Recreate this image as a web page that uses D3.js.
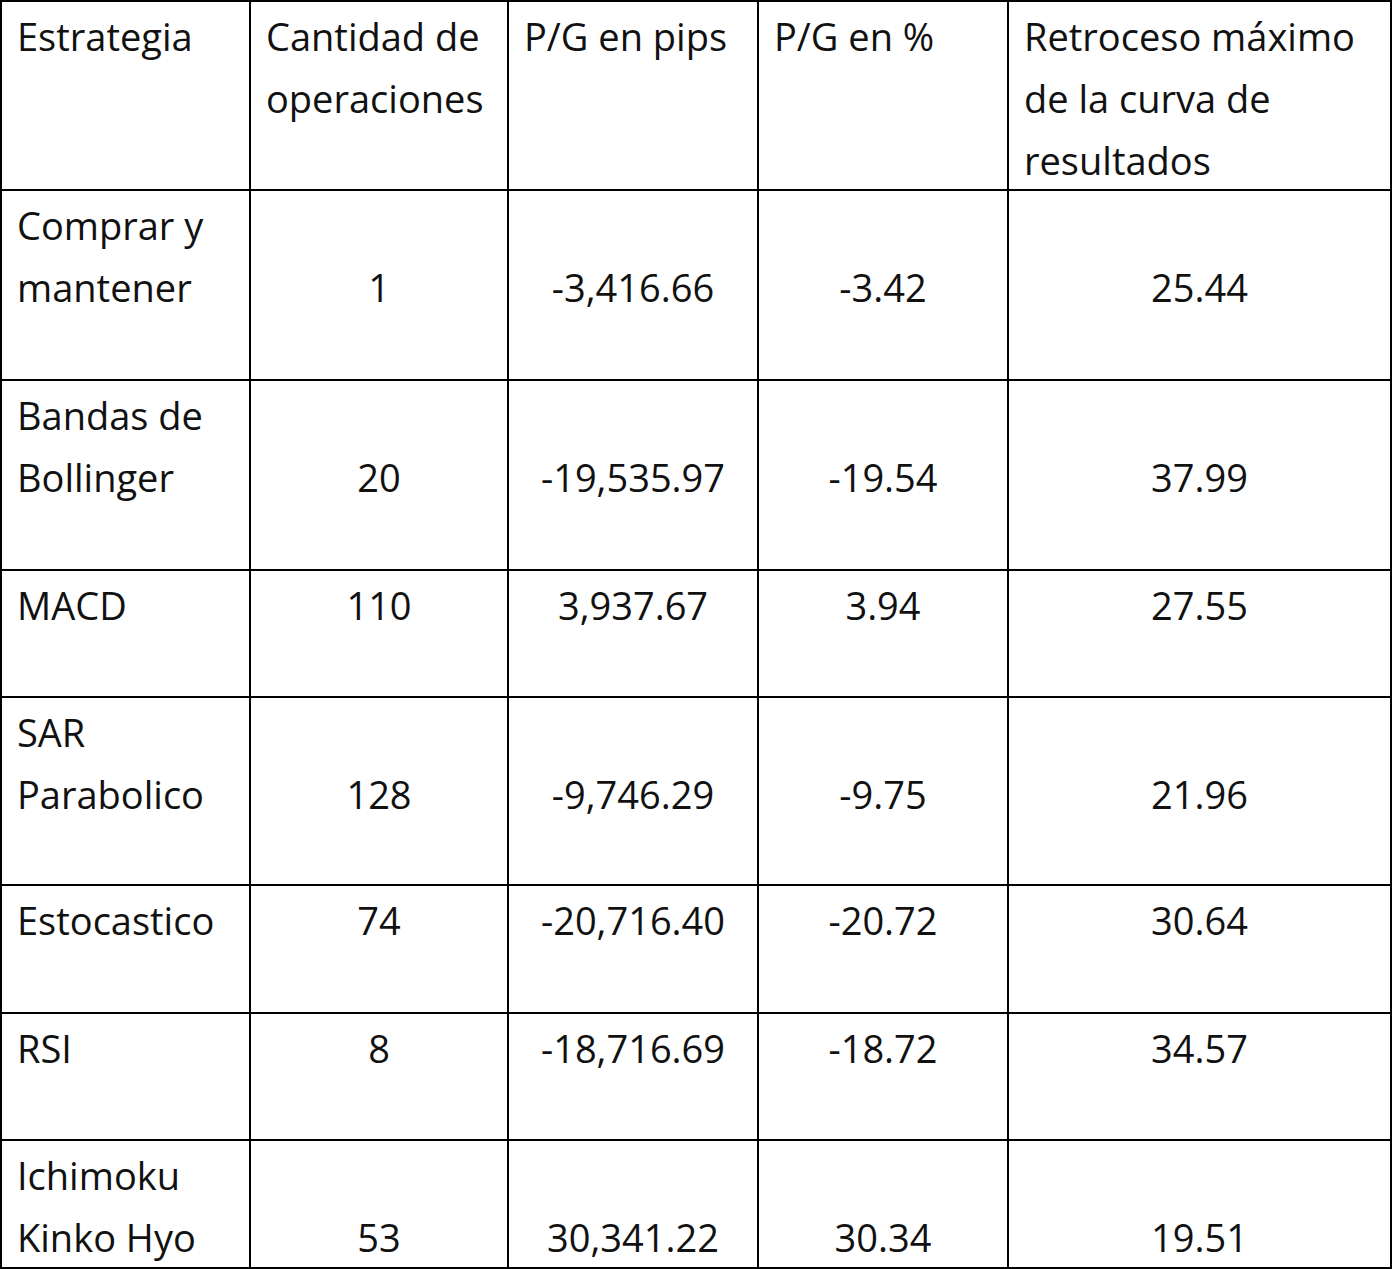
<!DOCTYPE html>
<html><head><meta charset="utf-8">
<script src="https://cdn.jsdelivr.net/npm/d3@7"></script>
<style>body{margin:0;background:#fff}text{font-family:"Open Sans",sans-serif;font-size:38px;fill:#111}</style>
</head><body><svg id="chart" width="1392" height="1269"></svg>
<script>
const headers = [["Estrategia"], ["Cantidad de", "operaciones"], ["P/G en pips"], ["P/G en %"], ["Retroceso máximo", "de la curva de", "resultados"]];
const strategies = [["Comprar y", "mantener"], ["Bandas de", "Bollinger"], ["MACD"], ["SAR", "Parabolico"], ["Estocastico"], ["RSI"], ["Ichimoku", "Kinko Hyo"]];
const operations = ["1", "20", "110", "128", "74", "8", "53"];
const pips = ["-3,416.66", "-19,535.97", "3,937.67", "-9,746.29", "-20,716.40", "-18,716.69", "30,341.22"];
const percent = ["-3.42", "-19.54", "3.94", "-9.75", "-20.72", "-18.72", "30.34"];
const drawdown = ["25.44", "37.99", "27.55", "21.96", "30.64", "34.57", "19.51"];

// layout
const colEdges = [1, 250, 508, 758, 1008, 1391];
const rowEdges = [1, 190, 380, 570, 697, 885, 1013, 1140, 1268];
const lineH = 62, firstBase = 50, pad = 16;

const svg = d3.select('#chart');
const g = svg.append('g');

// grid lines
g.selectAll('line.v').data(colEdges).join('line')
  .attr('x1', d => d).attr('x2', d => d).attr('y1', 0).attr('y2', 1269)
  .attr('stroke', '#000').attr('stroke-width', 2);
g.selectAll('line.h').data(rowEdges).join('line')
  .attr('y1', d => d).attr('y2', d => d).attr('x1', 0).attr('x2', 1392)
  .attr('stroke', '#000').attr('stroke-width', 2);

// header
headers.forEach((lines, c) => {
  lines.forEach((t, i) => {
    g.append('text').attr('x', colEdges[c] + pad).attr('y', rowEdges[0] + firstBase + i * lineH).text(t);
  });
});

// body
strategies.forEach((lines, r) => {
  const top = rowEdges[r + 1];
  lines.forEach((t, i) => {
    g.append('text').attr('x', colEdges[0] + pad).attr('y', top + firstBase + i * lineH).text(t);
  });
  const base = top + firstBase + (lines.length - 1) * lineH;
  [operations, pips, percent, drawdown].forEach((col, c) => {
    g.append('text').attr('x', (colEdges[c + 1] + colEdges[c + 2]) / 2).attr('y', base)
      .attr('text-anchor', 'middle').text(col[r]);
  });
});
</script></body></html>
